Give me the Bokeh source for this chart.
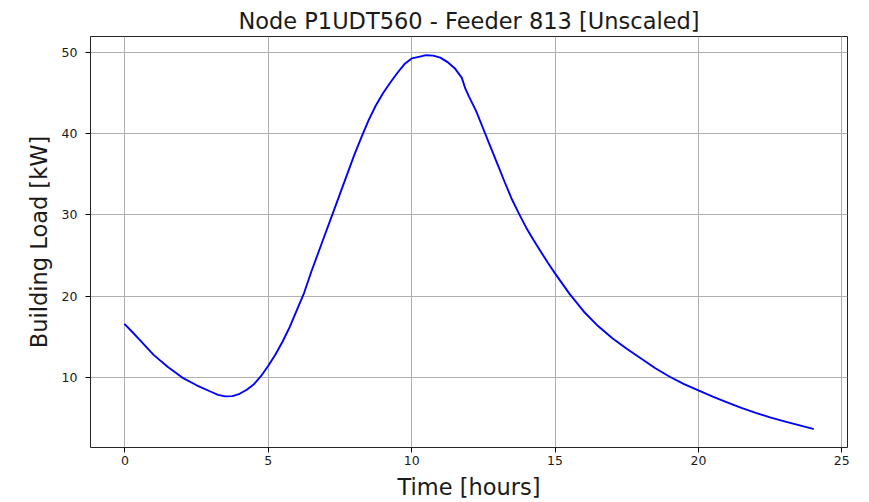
import numpy as np
from bokeh.plotting import figure
from bokeh.models import Range1d, FixedTicker, Title
from bokeh.embed import file_html
from bokeh.resources import INLINE

# Data
hours = [0.0, 0.25, 0.5, 1.0, 1.5, 2.0, 2.5, 3.0, 3.25, 3.5, 3.75, 4.0, 4.25,
         4.5, 4.75, 5.0, 5.25, 5.5, 5.75, 6.0, 6.25, 6.5, 6.75, 7.0, 7.25,
         7.5, 7.75, 8.0, 8.25, 8.5, 8.75, 9.0, 9.25, 9.5, 9.75, 10.0, 10.25,
         10.5, 10.75, 11.0, 11.25, 11.5, 11.75, 11.87, 12.0, 12.25, 12.5,
         12.75, 13.0, 13.25, 13.5, 13.75, 14.0, 14.25, 14.5, 14.75, 15.0,
         15.5, 16.0, 16.5, 17.0, 17.5, 18.0, 18.5, 19.0, 19.5, 20.0, 20.5,
         21.0, 21.5, 22.0, 22.5, 23.0, 23.5, 24.0]
load_kw = [16.5, 15.6, 14.65, 12.75, 11.25, 9.95, 9.0, 8.2, 7.82, 7.63, 7.66,
           7.95, 8.45, 9.13, 10.15, 11.4, 12.8, 14.4, 16.2, 18.3, 20.4, 23.0,
           25.4, 27.8, 30.2, 32.6, 35.0, 37.4, 39.6, 41.7, 43.5, 45.0, 46.3,
           47.5, 48.6, 49.3, 49.5, 49.7, 49.65, 49.4, 48.85, 48.1, 46.9, 45.6,
           44.6, 42.8, 40.6, 38.4, 36.2, 34.0, 31.9, 30.1, 28.4, 26.9, 25.5,
           24.1, 22.8, 20.3, 18.1, 16.3, 14.8, 13.5, 12.3, 11.1, 10.05, 9.15,
           8.36, 7.6, 6.9, 6.2, 5.6, 5.05, 4.55, 4.08, 3.63]
x_ticks = [0, 5, 10, 15, 20, 25]
y_ticks = [10, 20, 30, 40, 50]

title_text = "Node P1UDT560 - Feeder 813 [Unscaled]"
x_label = "Time [hours]"
y_label = "Building Load [kW]"

FONT = "DejaVu Sans"
TXT = "#1a1a1a"

xmin, xmax = min(hours), max(hours)
ymin, ymax = min(load_kw), max(load_kw)
xpad = 0.05 * (xmax - xmin)
ypad = 0.05 * (ymax - ymin)

p = figure(width=869, height=502, output_backend="svg", toolbar_location=None,
           x_range=Range1d(xmin - xpad, xmax + xpad),
           y_range=Range1d(ymin - ypad, ymax + ypad),
           min_border_left=90, min_border_right=22,
           min_border_top=36, min_border_bottom=55)

p.title = Title(text=title_text, align="center", text_font=FONT,
                text_font_size="22.5px", text_font_style="normal",
                text_color=TXT, standoff=6)

p.line(hours, load_kw, line_color="#0000ff", line_width=1.9,
       line_join="round", line_cap="round")

p.background_fill_color = "white"
p.border_fill_color = "white"
p.outline_line_color = "#000000"
p.outline_line_width = 1
p.outline_line_alpha = 0.85

for ax in (p.xaxis[0], p.yaxis[0]):
    ax.axis_line_color = None
    ax.major_tick_line_color = "#000000"
    ax.major_tick_line_width = 1
    ax.major_tick_out = 5
    ax.major_tick_in = 0
    ax.minor_tick_line_color = None
    ax.major_label_text_font = FONT
    ax.major_label_text_font_size = "12.5px"
    ax.major_label_text_color = TXT
    ax.axis_label_text_font = FONT
    ax.axis_label_text_font_size = "22.5px"
    ax.axis_label_text_font_style = "normal"
    ax.axis_label_text_color = TXT

p.xaxis[0].ticker = FixedTicker(ticks=x_ticks)
p.yaxis[0].ticker = FixedTicker(ticks=y_ticks)
p.xaxis[0].axis_label = x_label
p.yaxis[0].axis_label = y_label
p.xaxis[0].major_label_standoff = 3
p.xaxis[0].axis_label_standoff = 6
p.yaxis[0].major_label_standoff = 8
p.yaxis[0].axis_label_standoff = 7

p.xgrid[0].ticker = FixedTicker(ticks=x_ticks)
p.ygrid[0].ticker = FixedTicker(ticks=y_ticks)
for g in (p.xgrid[0], p.ygrid[0]):
    g.grid_line_color = "#b0b0b0"
    g.grid_line_width = 1

open("out.html", "w").write(file_html(p, INLINE))
